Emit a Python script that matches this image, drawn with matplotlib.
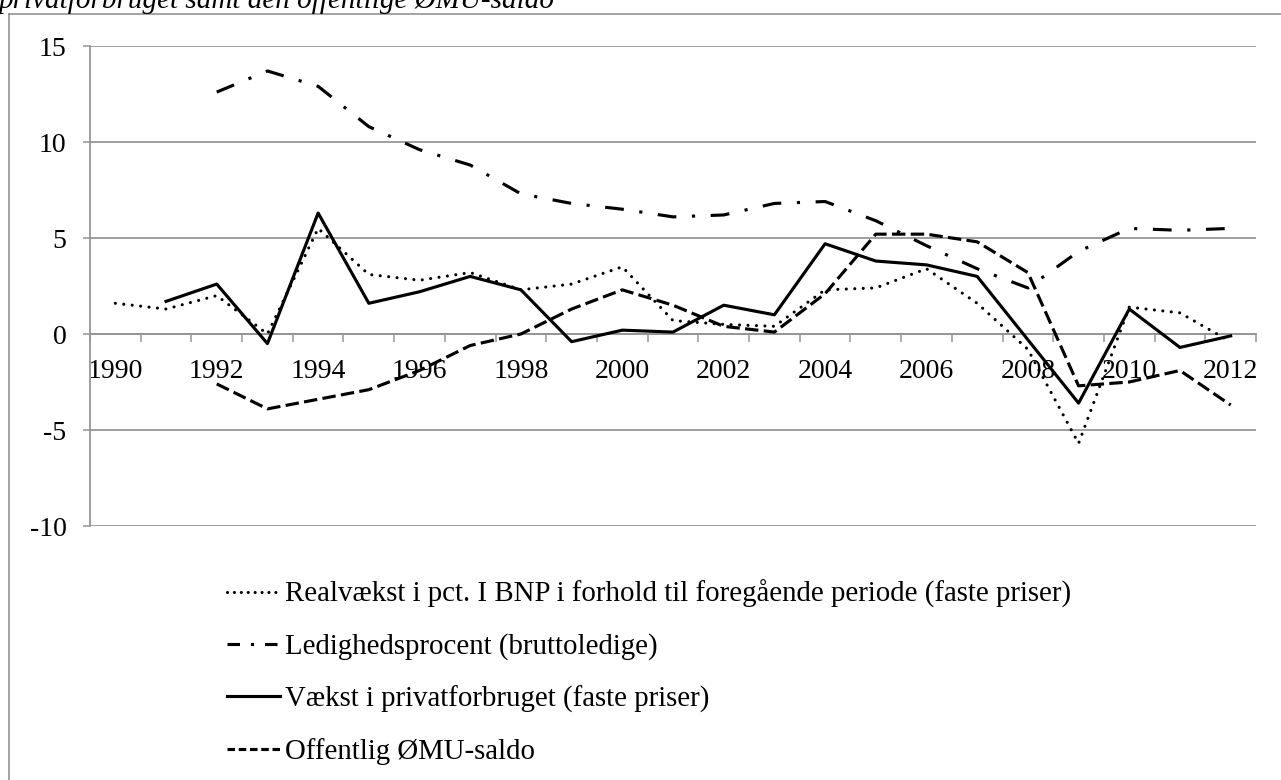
import numpy as np
import matplotlib.pyplot as plt
from matplotlib.lines import Line2D

nan = np.nan

years = list(range(1990, 2013))
bnp_vaekst = [1.6, 1.3, 2.0, 0.0, 5.5, 3.1, 2.8, 3.2, 2.3, 2.6, 3.5, 0.7,
              0.5, 0.4, 2.3, 2.4, 3.4, 1.6, -0.8, -5.7, 1.4, 1.1, -0.4]
ledighed = [nan, nan, 12.6, 13.7, 12.9, 10.8, 9.6, 8.8, 7.3, 6.8, 6.5, 6.1,
            6.2, 6.8, 6.9, 5.9, 4.6, 3.4, 2.4, 4.3, 5.5, 5.4, 5.5]
privatforbrug = [nan, 1.7, 2.6, -0.5, 6.3, 1.6, 2.2, 3.0, 2.3, -0.4, 0.2, 0.1,
                 1.5, 1.0, 4.7, 3.8, 3.6, 3.0, -0.3, -3.6, 1.3, -0.7, -0.1]
oemu_saldo = [nan, nan, -2.6, -3.9, -3.4, -2.9, -1.9, -0.6, 0.0, 1.3, 2.3, 1.5,
              0.4, 0.1, 2.1, 5.2, 5.2, 4.8, 3.2, -2.7, -2.5, -1.9, -3.7]

labels = [
    "Realvækst i pct. I BNP i forhold til foregående periode (faste priser)",
    "Ledighedsprocent (bruttoledige)",
    "Vækst i privatforbruget (faste priser)",
    "Offentlig ØMU-saldo",
]
titel = "privatforbruget samt den offentlige ØMU-saldo"

plt.rcParams["font.family"] = ["Liberation Serif", "DejaVu Serif"]
plt.rcParams["axes.unicode_minus"] = False

W, H = 1281, 780
fig = plt.figure(figsize=(W / 100, H / 100), dpi=100)
ax = fig.add_axes([90 / W, 1 - 526 / H, (1256 - 90) / W, (526 - 46) / H])

grey = "#969696"
x = np.arange(len(years))
lw = 2.25

styles = [
    dict(linestyle=(0, (0.01, 2.7)), dash_capstyle="round"),
    dict(linestyle=(0, (6, 5, 1, 5))),
    dict(linestyle="-"),
    dict(linestyle=(0, (4.3, 1.7))),
]
series = [bnp_vaekst, ledighed, privatforbrug, oemu_saldo]
for vals, st in zip(series, styles):
    ax.plot(x, vals, color="black", lw=lw, zorder=3, **st)

ax.set_xlim(-0.5, len(years) - 0.5)
ax.set_ylim(-10, 15)
ax.set_yticks([-10, -5, 0, 5, 10, 15])

# tick marks between categories, labels on every second year
ax.set_xticks(np.arange(-0.5, len(years), 1))
ax.set_xticklabels([])
ax.set_xticks(x[::2], minor=True)
ax.set_xticklabels([str(y) for y in years[::2]], minor=True)
ax.tick_params(axis="x", which="major", length=6, width=1.1, color=grey, direction="out")
ax.tick_params(axis="x", which="minor", length=0, pad=18, labelsize=20)
ax.tick_params(axis="y", length=5, width=1.1, color=grey, pad=12, labelsize=20)

ax.spines["top"].set_visible(False)
ax.spines["right"].set_visible(False)
ax.spines["bottom"].set_position(("data", 0))
for s in ("left", "bottom"):
    ax.spines[s].set_color(grey)
    ax.spines[s].set_linewidth(1.3)
ax.grid(axis="y", color=grey, linewidth=1.3)
ax.set_axisbelow(True)

# legend keys use slightly shorter patterns, as in the original
legend_styles = [
    dict(linestyle=(0, (0.01, 2.2)), dash_capstyle="round"),
    dict(linestyle=(0, (4, 3.5, 1, 3.5))),
    dict(linestyle="-"),
    dict(linestyle=(0, (2.4, 1.2))),
]
handles = [Line2D([], [], color="black", lw=lw, **st) for st in legend_styles]
fig.legend(handles, labels, loc="upper left", bbox_to_anchor=(227 / W, 1 - 580 / H),
           frameon=False, fontsize=20.8, borderpad=0, borderaxespad=0,
           handlelength=1.85, handletextpad=0.17, labelspacing=0.87)

# cropped title and chart frame
fig.text(-0.001, 1 - 8 / H, titel, fontsize=21, style="italic", va="baseline", ha="left")
fig.add_artist(Line2D([8.5 / W, 8.5 / W], [0, 1 - 14 / H], transform=fig.transFigure,
                      color="#8a8a8a", lw=1.1))
fig.add_artist(Line2D([8.5 / W, 1], [1 - 14 / H, 1 - 14 / H], transform=fig.transFigure,
                      color="#8a8a8a", lw=1.1))

fig.savefig("out.png", dpi=100)
